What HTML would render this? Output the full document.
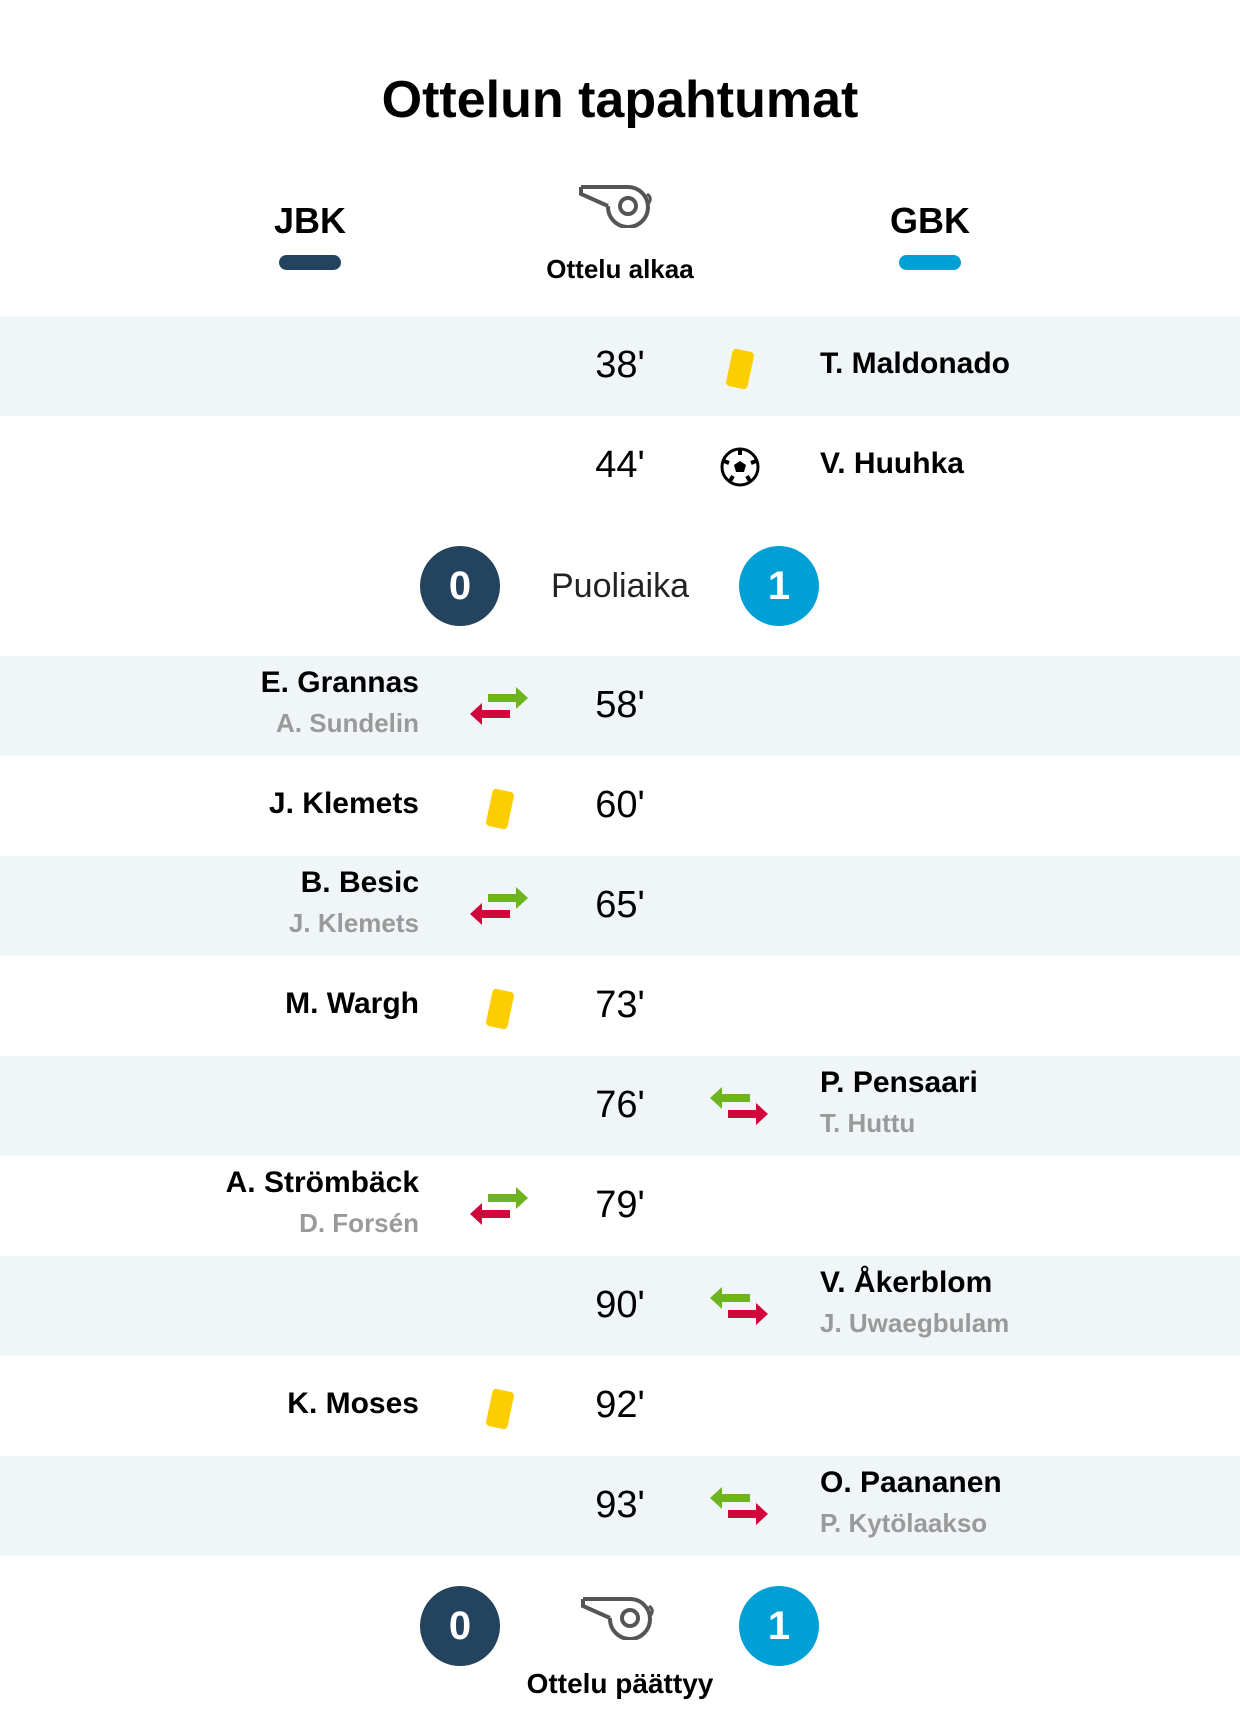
<!DOCTYPE html>
<html><head><meta charset="utf-8"><style>
*{margin:0;padding:0;box-sizing:border-box}
body{width:1240px;height:1718px;background:#fff;font-family:"Liberation Sans Narrow","Liberation Sans",sans-serif;color:#000;position:relative;overflow:hidden}
.a{position:absolute;white-space:nowrap}
.row{position:absolute;left:0;width:1240px;height:100px}
.sh{background:#f0f5f7}
.min{position:absolute;left:560px;width:120px;text-align:center;top:28px;font-size:38px}
.ln{position:absolute;right:821px;text-align:right}
.rn{position:absolute;left:820px}
.nm{font-weight:bold;font-size:30px}
.sub{font-weight:bold;font-size:26px;color:#9a9a9a}
.ic{position:absolute;top:30px}
.circ{position:absolute;width:80px;height:80px;border-radius:40px;color:#fff;font-size:40px;text-align:center;line-height:80px;font-weight:bold}
</style></head><body>
<div class="a" style="left:0;width:1240px;text-align:center;top:70px;font-size:52px;font-weight:bold">Ottelun tapahtumat</div>
<div class="a" style="left:250px;width:120px;text-align:center;top:200px;font-size:36px;font-weight:bold">JBK</div>
<div class="a" style="left:279px;top:255px;width:62px;height:15px;border-radius:8px;background:#24435e"></div>
<div class="a" style="left:870px;width:120px;text-align:center;top:200px;font-size:36px;font-weight:bold">GBK</div>
<div class="a" style="left:899px;top:255px;width:62px;height:15px;border-radius:8px;background:#009fd6"></div>
<svg class="a" style="left:578px;top:182px" width="80" height="46" viewBox="0 0 80 46"><path d="M3 5 L3 12 L30 24" fill="none" stroke="#555" stroke-width="4"/><path d="M3 5 L50 5 A20 20 0 1 1 30 24" fill="none" stroke="#555" stroke-width="4"/><circle cx="50" cy="24" r="8" fill="none" stroke="#555" stroke-width="4"/><path d="M69 12 Q75 16 70 22" fill="none" stroke="#555" stroke-width="3"/></svg>
<div class="a" style="left:0;width:1240px;text-align:center;top:254px;font-size:26px;font-weight:bold">Ottelu alkaa</div>

<div class="row sh" style="top:316px"><div class="min">38'</div><svg class="ic" style="left:720px" width="40" height="46"><rect x="9" y="4" width="22" height="38" rx="4" fill="#fcce00" transform="rotate(12 20 23)"/></svg><div class="rn nm" style="top:31px">T. Maldonado</div></div>
<div class="row" style="top:416px"><div class="min">44'</div><svg class="ic" style="left:719px;top:30px" width="42" height="42" viewBox="0 0 42 42"><circle cx="21" cy="21" r="18" fill="#fff" stroke="#000" stroke-width="3"/><polygon points="21,15 27,19 25,26 17,26 15,19" fill="#000"/><path d="M21 4 L21 9 M5 15 L10 17 M37 15 L32 17 M11 35 L14 30 M31 35 L28 30" stroke="#000" stroke-width="4"/></svg><div class="rn nm" style="top:31px">V. Huuhka</div></div>

<div class="circ" style="left:420px;top:546px;background:#24435e">0</div>
<div class="a" style="left:0;width:1240px;text-align:center;top:567px;font-size:34px;color:#222">Puoliaika</div>
<div class="circ" style="left:739px;top:546px;background:#009fd6">1</div>

<svg width="0" height="0" style="position:absolute"><defs>
<g id="sl"><polygon points="22,14 50,14 50,7 62,18 50,29 50,22 22,22" fill="#6eb41e"/><polygon points="44,30 16,30 16,23 4,34 16,45 16,38 44,38" fill="#d0073b"/></g>
<g id="sr"><polygon points="44,14 16,14 16,7 4,18 16,29 16,22 44,22" fill="#6eb41e"/><polygon points="22,30 50,30 50,23 62,34 50,45 50,38 22,38" fill="#d0073b"/></g>
</defs></svg>

<div class="row sh" style="top:656px"><div class="ln nm" style="top:10px">E. Grannas</div><div class="ln sub" style="top:52px">A. Sundelin</div><svg class="ic" style="left:466px;top:24px" width="66" height="50"><use href="#sl"/></svg><div class="min">58'</div></div>
<div class="row" style="top:756px"><div class="ln nm" style="top:31px">J. Klemets</div><svg class="ic" style="left:480px" width="40" height="46"><rect x="9" y="4" width="22" height="38" rx="4" fill="#fcce00" transform="rotate(12 20 23)"/></svg><div class="min">60'</div></div>
<div class="row sh" style="top:856px"><div class="ln nm" style="top:10px">B. Besic</div><div class="ln sub" style="top:52px">J. Klemets</div><svg class="ic" style="left:466px;top:24px" width="66" height="50"><use href="#sl"/></svg><div class="min">65'</div></div>
<div class="row" style="top:956px"><div class="ln nm" style="top:31px">M. Wargh</div><svg class="ic" style="left:480px" width="40" height="46"><rect x="9" y="4" width="22" height="38" rx="4" fill="#fcce00" transform="rotate(12 20 23)"/></svg><div class="min">73'</div></div>
<div class="row sh" style="top:1056px"><div class="min">76'</div><svg class="ic" style="left:706px;top:24px" width="66" height="50"><use href="#sr"/></svg><div class="rn nm" style="top:10px">P. Pensaari</div><div class="rn sub" style="top:52px">T. Huttu</div></div>
<div class="row" style="top:1156px"><div class="ln nm" style="top:10px">A. Strömbäck</div><div class="ln sub" style="top:52px">D. Forsén</div><svg class="ic" style="left:466px;top:24px" width="66" height="50"><use href="#sl"/></svg><div class="min">79'</div></div>
<div class="row sh" style="top:1256px"><div class="min">90'</div><svg class="ic" style="left:706px;top:24px" width="66" height="50"><use href="#sr"/></svg><div class="rn nm" style="top:10px">V. Åkerblom</div><div class="rn sub" style="top:52px">J. Uwaegbulam</div></div>
<div class="row" style="top:1356px"><div class="ln nm" style="top:31px">K. Moses</div><svg class="ic" style="left:480px" width="40" height="46"><rect x="9" y="4" width="22" height="38" rx="4" fill="#fcce00" transform="rotate(12 20 23)"/></svg><div class="min">92'</div></div>
<div class="row sh" style="top:1456px"><div class="min">93'</div><svg class="ic" style="left:706px;top:24px" width="66" height="50"><use href="#sr"/></svg><div class="rn nm" style="top:10px">O. Paananen</div><div class="rn sub" style="top:52px">P. Kytölaakso</div></div>

<div class="circ" style="left:420px;top:1586px;background:#24435e">0</div>
<svg class="a" style="left:580px;top:1594px" width="80" height="46" viewBox="0 0 80 46"><path d="M3 5 L3 12 L30 24" fill="none" stroke="#555" stroke-width="4"/><path d="M3 5 L50 5 A20 20 0 1 1 30 24" fill="none" stroke="#555" stroke-width="4"/><circle cx="50" cy="24" r="8" fill="none" stroke="#555" stroke-width="4"/><path d="M69 12 Q75 16 70 22" fill="none" stroke="#555" stroke-width="3"/></svg>
<div class="circ" style="left:739px;top:1586px;background:#009fd6">1</div>
<div class="a" style="left:0;width:1240px;text-align:center;top:1668px;font-size:28px;font-weight:bold">Ottelu päättyy</div>
</body></html>
